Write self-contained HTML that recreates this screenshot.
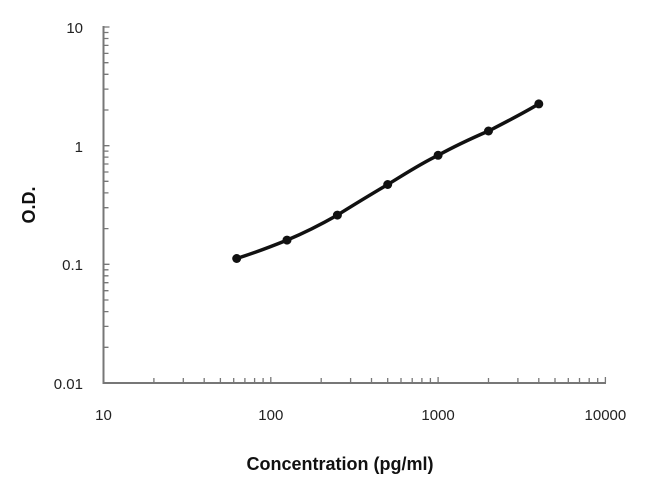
<!DOCTYPE html>
<html><head><style>body{margin:0;background:#fff}svg{display:block}</style></head><body>
<svg width="650" height="488" xmlns="http://www.w3.org/2000/svg" font-family="Liberation Sans, sans-serif">
<g stroke="#777" stroke-width="2" fill="none">
<path d="M103.5,26 V383 H606"/>
<path stroke-width="1.3" d="M153.9,383v-5M183.3,383v-5M204.2,383v-5M220.4,383v-5M233.7,383v-5M244.9,383v-5M254.6,383v-5M263.1,383v-5M270.8,383v-6
M321.2,383v-5M350.6,383v-5M371.5,383v-5M387.7,383v-5M401,383v-5M412.2,383v-5M421.9,383v-5M430.4,383v-5M438.1,383v-6
M488.5,383v-5M517.9,383v-5M538.8,383v-5M555,383v-5M568.3,383v-5M579.5,383v-5M589.2,383v-5M597.7,383v-5M605.4,383v-6
M103.5,347.3h5M103.5,326.4h5M103.5,311.6h5M103.5,300h5M103.5,290.7h5M103.5,282.7h5M103.5,275.8h5M103.5,269.8h5M103.5,264.3h6
M103.5,228.6h5M103.5,207.7h5M103.5,192.9h5M103.5,181.3h5M103.5,172h5M103.5,164h5M103.5,157.1h5M103.5,151.1h5M103.5,145.7h6
M103.5,110h5M103.5,89.1h5M103.5,74.3h5M103.5,62.7h5M103.5,53.4h5M103.5,45.4h5M103.5,38.5h5M103.5,32.5h5M103.5,27h6"/>
</g>
<g font-size="15" fill="#222" text-anchor="end">
<text x="83" y="33">10</text><text x="83" y="152">1</text><text x="83" y="270">0.1</text><text x="83" y="389">0.01</text>
</g>
<g font-size="15" fill="#222" text-anchor="middle">
<text x="103.5" y="420">10</text><text x="270.8" y="420">100</text><text x="438.1" y="420">1000</text><text x="605.4" y="420">10000</text>
</g>
<text x="340" y="470" font-size="18" font-weight="bold" text-anchor="middle" fill="#111">Concentration (pg/ml)</text>
<text transform="translate(35,205) rotate(-90)" font-size="18" font-weight="bold" text-anchor="middle" fill="#111">O.D.</text>
<path d="M236.7,258.5 C254,253 270,247 287,240.1 C304,233 320,225 337.4,215.1 C355,204 370,195 387.7,184.5 C405,174 420,164 438.1,155.3 C455,146 470,139 488.5,131 C506,122 522,114 538.8,103.9" stroke="#111" stroke-width="3.5" fill="none"/>
<g fill="#111">
<circle cx="236.7" cy="258.5" r="4.5"/><circle cx="287" cy="240.1" r="4.5"/><circle cx="337.4" cy="215.1" r="4.5"/><circle cx="387.7" cy="184.5" r="4.5"/><circle cx="438.1" cy="155.3" r="4.5"/><circle cx="488.5" cy="131" r="4.5"/><circle cx="538.8" cy="103.9" r="4.5"/>
</g>
</svg>
</body></html>
